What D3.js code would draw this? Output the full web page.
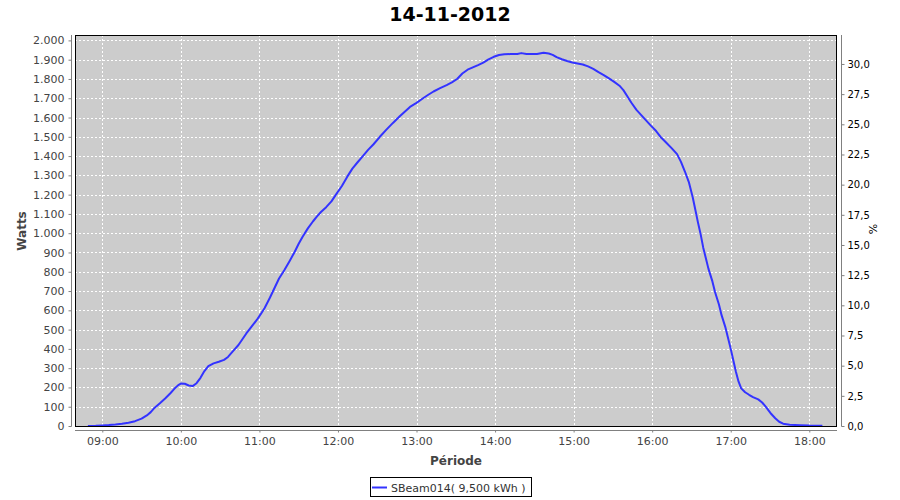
<!DOCTYPE html>
<html>
<head>
<meta charset="utf-8">
<script src="https://cdn.jsdelivr.net/npm/d3@7"></script>
<style>
  html, body { margin: 0; padding: 0; background: #fff; }
  svg { display: block; font-family: "DejaVu Sans", sans-serif; }
</style>
</head>
<body>
<svg id="chart" width="900" height="500"></svg>
<script>
// ---- data ----
const chartTitle = "14-11-2012";
const seriesName = "SBeam014( 9,500 kWh )";
const times = ["08:49","08:55","09:00","09:05","09:10","09:15","09:20","09:25","09:30","09:34","09:37","09:40","09:44","09:48","09:52","09:55","09:58","10:00","10:03","10:06","10:09","10:12","10:15","10:18","10:21","10:25","10:29","10:33","10:36","10:40","10:44","10:47","10:50","10:54","10:58","11:01","11:04","11:08","11:12","11:15","11:19","11:23","11:27","11:30","11:33","11:37","11:41","11:44","11:47","11:51","11:55","11:59","12:03","12:07","12:11","12:15","12:19","12:23","12:27","12:32","12:37","12:42","12:47","12:51","12:55","13:00","13:05","13:09","13:13","13:18","13:23","13:27","13:31","13:35","13:39","13:43","13:47","13:51","13:55","13:59","14:03","14:07","14:12","14:17","14:20","14:24","14:28","14:32","14:37","14:41","14:44","14:47","14:51","14:55","14:59","15:03","15:07","15:11","15:15","15:19","15:23","15:27","15:31","15:35","15:38","15:41","15:44","15:48","15:52","15:56","15:59","16:03","16:07","16:11","16:15","16:19","16:22","16:25","16:28","16:31","16:33","16:35","16:37","16:39","16:41","16:43","16:46","16:48","16:51","16:53","16:56","16:58","17:00","17:02","17:04","17:06","17:08","17:11","17:14","17:17","17:21","17:24","17:27","17:31","17:34","17:37","17:40","17:45","17:53","18:00","18:10"];
const watts = [0,1,3,5,8,12,17,25,38,55,72,95,118,143,170,193,212,220,219,210,207,222,250,285,310,325,333,343,358,390,420,450,480,515,550,580,612,665,722,765,808,855,904,945,982,1025,1062,1087,1110,1135,1165,1205,1245,1292,1335,1368,1400,1432,1460,1500,1537,1572,1605,1630,1655,1676,1700,1718,1735,1752,1768,1782,1800,1828,1848,1860,1872,1885,1902,1915,1924,1928,1929,1930,1934,1929,1929,1930,1936,1932,1925,1913,1902,1893,1885,1880,1875,1865,1852,1835,1820,1803,1785,1765,1742,1710,1678,1640,1610,1580,1558,1530,1495,1468,1440,1410,1370,1320,1265,1185,1120,1055,995,925,870,815,750,695,630,575,510,455,400,340,280,230,195,175,162,150,138,122,98,62,40,22,12,6,4,2,1];
const hourTicks = ["09:00","10:00","11:00","12:00","13:00","14:00","15:00","16:00","17:00","18:00"];
const wattTicks = d3.range(0, 2001, 100);
const pctTicks = [0,2.5,5,7.5,10,12.5,15,17.5,20,22.5,25,27.5,30];
const xDomain = ["08:39:09","18:21:10"];
const wattMax = 2028;
const pctMax = 32.4;

// ---- layout ----
const L = 75, R = 837, T = 35, B = 426;
const day = "2012-11-14T";
const parse = s => new Date(day + (s.length === 5 ? s + ":00" : s));

const svg = d3.select("#chart");
const x = d3.scaleTime().domain(xDomain.map(parse)).range([L, R]);
const y = d3.scaleLinear().domain([0, wattMax]).range([B, T]);
const y2 = d3.scaleLinear().domain([0, pctMax]).range([B, T]);

const fmtW = v => d3.format(",")(v).replace(/,/g, ".");
const fmtP = v => d3.format(".1f")(v).replace(".", ",");

// title
svg.append("text").attr("x", 450).attr("y", 21).attr("text-anchor", "middle")
  .attr("font-size", 19).attr("font-weight", "bold").attr("fill", "#000").text(chartTitle);

// plot background
svg.append("rect").attr("x", L).attr("y", T).attr("width", R - L).attr("height", B - T).attr("fill", "#cccccc");

// gridlines
const grid = svg.append("g").attr("stroke", "#fff").attr("stroke-width", 1).attr("stroke-dasharray", "2,2").attr("shape-rendering", "crispEdges");
grid.selectAll(".gy").data(wattTicks).join("line")
  .attr("x1", L).attr("x2", R)
  .attr("y1", d => Math.round(y(d)) + 0.5).attr("y2", d => Math.round(y(d)) + 0.5);
grid.selectAll(".gx").data(hourTicks.map(parse)).join("line")
  .attr("y1", T).attr("y2", B)
  .attr("x1", d => Math.round(x(d)) + 0.5).attr("x2", d => Math.round(x(d)) + 0.5);

// line
const line = d3.line().x((d, i) => x(parse(times[i]))).y(d => y(d));
svg.append("path").datum(watts).attr("fill", "none").attr("stroke", "#3333ff")
  .attr("stroke-width", 2).attr("stroke-linejoin", "round").attr("d", line);

// plot border
svg.append("rect").attr("x", L + 0.5).attr("y", T + 0.5).attr("width", R - L - 1).attr("height", B - T)
  .attr("fill", "none").attr("stroke", "#000").attr("stroke-width", 1);

// left axis
const gL = svg.append("g").attr("transform", `translate(71.5,0)`)
  .call(d3.axisLeft(y).tickValues(wattTicks).tickFormat(fmtW).tickSizeInner(3).tickSizeOuter(0).tickPadding(4));
gL.select(".domain").attr("stroke", "#808080").attr("d", `M0,${T}V${B + 0.5}`);
gL.selectAll(".tick line").attr("stroke", "#808080");
gL.selectAll(".tick text").attr("fill", "#444").attr("font-size", 11).attr("font-family", "DejaVu Sans");

// bottom axis
const gB = svg.append("g").attr("transform", `translate(0,430.5)`)
  .call(d3.axisBottom(x).tickValues(hourTicks.map(parse)).tickFormat(d3.timeFormat("%H:%M")).tickSizeInner(2).tickSizeOuter(0).tickPadding(5));
gB.select(".domain").attr("stroke", "#808080").attr("d", `M${L},0H${R}`);
gB.selectAll(".tick line").attr("stroke", "#808080");
gB.selectAll(".tick text").attr("fill", "#444").attr("font-size", 11).attr("font-family", "DejaVu Sans");

// right axis
const gR = svg.append("g").attr("transform", `translate(841.5,0)`)
  .call(d3.axisRight(y2).tickValues(pctTicks).tickFormat(fmtP).tickSizeInner(3).tickSizeOuter(0).tickPadding(3));
gR.select(".domain").attr("stroke", "#808080").attr("d", `M0,${T}V${B + 0.5}`);
gR.selectAll(".tick line").attr("stroke", "#808080");
gR.selectAll(".tick text").attr("fill", "#000").attr("font-size", 10).attr("font-family", "DejaVu Sans");

// axis labels
svg.append("text").attr("x", 456).attr("y", 465).attr("text-anchor", "middle")
  .attr("font-size", 12).attr("font-weight", "bold").attr("fill", "#444").text("Période");
svg.append("text").attr("transform", "translate(26,231) rotate(-90)").attr("text-anchor", "middle")
  .attr("font-size", 12).attr("font-weight", "bold").attr("fill", "#444").text("Watts");
svg.append("text").attr("transform", "translate(877,229) rotate(-90)").attr("text-anchor", "middle")
  .attr("font-size", 11).attr("fill", "#000").text("%");

// legend
const lg = svg.append("g");
lg.append("rect").attr("x", 370.5).attr("y", 477.5).attr("width", 161).attr("height", 19)
  .attr("fill", "#fff").attr("stroke", "#000");
lg.append("line").attr("x1", 372).attr("x2", 387).attr("y1", 487.5).attr("y2", 487.5)
  .attr("stroke", "#3333ff").attr("stroke-width", 2);
lg.append("text").attr("x", 391).attr("y", 491.5).attr("font-size", 11).attr("fill", "#333").text(seriesName);
</script>
</body>
</html>
